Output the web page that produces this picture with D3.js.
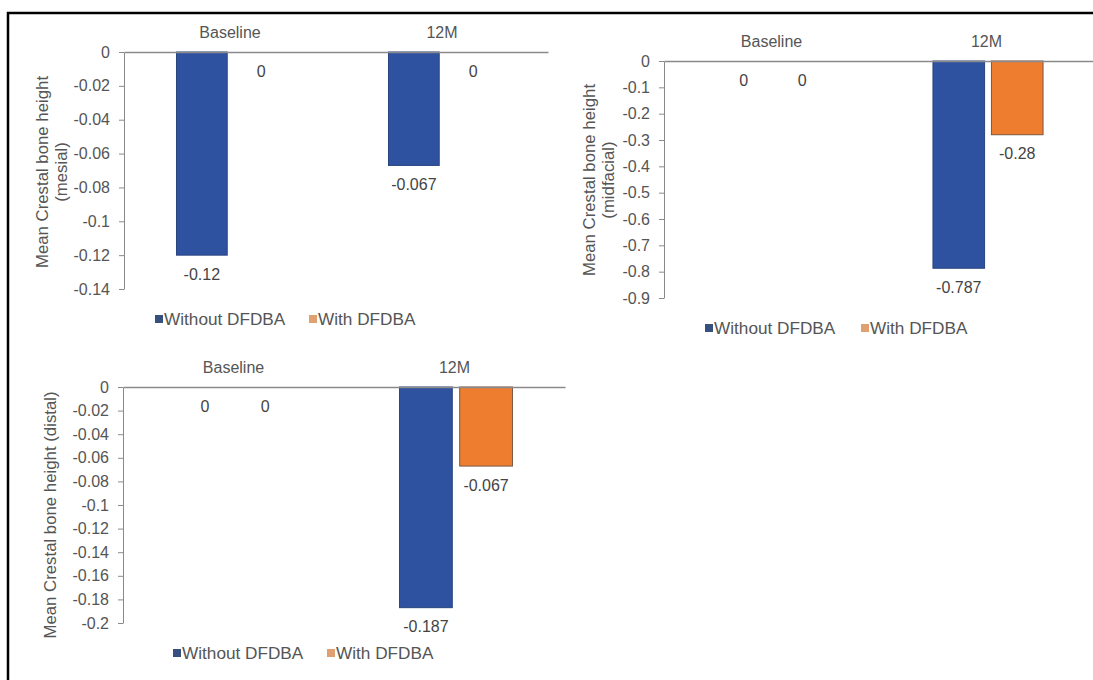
<!DOCTYPE html>
<html>
<head>
<meta charset="utf-8">
<script src="https://cdn.jsdelivr.net/npm/d3@7"></script>
<style>
  html, body { margin: 0; padding: 0; background: #fff; }
  svg { display: block; font-family: "Liberation Sans", Arial, sans-serif; }
</style>
</head>
<body>
<svg id="chart" width="1093" height="680"></svg>
<script>
// Crestal bone height change, with and without DFDBA
const categories = ["Baseline", "12M"];
const seriesNames = ["Without DFDBA", "With DFDBA"];

const mesialWithout = [-0.12, -0.067];
const mesialWith = [0, 0];
const midfacialWithout = [0, -0.787];
const midfacialWith = [0, -0.28];
const distalWithout = [0, -0.187];
const distalWith = [0, -0.067];

const mesialTicks = [0, -0.02, -0.04, -0.06, -0.08, -0.1, -0.12, -0.14];
const midfacialTicks = [0, -0.1, -0.2, -0.3, -0.4, -0.5, -0.6, -0.7, -0.8, -0.9];
const distalTicks = [0, -0.02, -0.04, -0.06, -0.08, -0.1, -0.12, -0.14, -0.16, -0.18, -0.2];

const colors = ["#2E52A0", "#EE7D2F"];
const strokes = ["#27447f", "#7a5640"];
const legendColors = ["#36507f", "#e0a070"];
const textColor = "#555";
const axisColor = "#8a8a8a";
const FONT = 16;

// layout of each small chart
const panels = [
  { title: ["Mean Crestal bone height", "(mesial)"], series: [mesialWithout, mesialWith], ticks: mesialTicks,
    x0: 124, x1: 548, y0: 52, y1: 289, barFrac: 0.222, gapFrac: 0.075,
    titleX: 42, titleY: 172, legendY: 319, legendX: [155, 309] },
  { title: ["Mean Crestal bone height", "(midfacial)"], series: [midfacialWithout, midfacialWith], ticks: midfacialTicks,
    x0: 664, x1: 1094, y0: 61, y1: 298, barFrac: 0.226, gapFrac: 0.06,
    titleX: 589, titleY: 180, legendY: 328, legendX: [705, 861] },
  { title: ["Mean Crestal bone height (distal)"], series: [distalWithout, distalWith], ticks: distalTicks,
    x0: 123, x1: 565, y0: 387, y1: 623, barFrac: 0.224, gapFrac: 0.063,
    titleX: 50, titleY: 515, legendY: 653, legendX: [173, 327] }
];

const svg = d3.select("#chart");

// outer frame
svg.append("rect")
  .attr("x", 8).attr("y", 13)
  .attr("width", 1200).attr("height", 800)
  .attr("fill", "none").attr("stroke", "#000").attr("stroke-width", 2.5);

function fmt(v) { return String(v); }

panels.forEach(p => {
  const g = svg.append("g");
  const ticks = p.ticks;
  const y = d3.scaleLinear()
    .domain([0, ticks[ticks.length - 1]])
    .range([p.y0, p.y1]);
  const x = d3.scaleBand().domain(categories).range([p.x0, p.x1]).paddingInner(0).paddingOuter(0);
  const bw = x.bandwidth();
  const barW = bw * p.barFrac;
  const gap = bw * p.gapFrac;
  const offset = d3.scaleBand().domain(seriesNames)
    .range([bw / 2 - barW - gap / 2 + 1.5, bw / 2 + barW + gap / 2 + 1.5])
    .paddingInner(gap / (2 * barW + gap));

  // bars
  p.series.forEach((vals, si) => {
    g.selectAll(null).data(vals.map((v, i) => ({ v, c: categories[i] })))
      .enter().filter(d => d.v !== 0)
      .append("rect")
      .attr("x", d => x(d.c) + offset(seriesNames[si]))
      .attr("y", y(0))
      .attr("width", offset.bandwidth())
      .attr("height", d => y(d.v) - y(0))
      .attr("fill", colors[si])
      .attr("stroke", strokes[si])
      .attr("stroke-width", 1);
  });

  // y axis
  const ya = g.append("g")
    .attr("transform", `translate(${p.x0},0)`)
    .call(d3.axisLeft(y).tickValues(ticks).tickFormat(fmt).tickSize(5).tickSizeOuter(0).tickPadding(9));
  ya.select(".domain").attr("stroke", axisColor);
  ya.selectAll(".tick line").attr("stroke", axisColor);
  ya.selectAll(".tick text").attr("fill", textColor).attr("font-size", FONT);

  // category axis on the zero line, labels above
  const xa = g.append("g")
    .attr("transform", `translate(0,${y(0)})`)
    .call(d3.axisTop(x).tickSize(0).tickPadding(14));
  xa.select(".domain").attr("stroke", axisColor).attr("stroke-width", 1.5);
  xa.selectAll(".tick text").attr("fill", textColor).attr("font-size", FONT);

  // value labels below bar ends
  p.series.forEach((vals, si) => {
    g.selectAll(null).data(vals.map((v, i) => ({ v, c: categories[i] })))
      .enter().append("text")
      .attr("x", d => x(d.c) + offset(seriesNames[si]) + offset.bandwidth() / 2)
      .attr("y", d => y(d.v) + 19)
      .attr("dy", "0.35em")
      .attr("text-anchor", "middle")
      .attr("fill", "#444")
      .attr("font-size", FONT)
      .text(d => fmt(d.v));
  });

  // axis title
  const t = g.append("text")
    .attr("transform", `translate(${p.titleX},${p.titleY}) rotate(-90)`)
    .attr("text-anchor", "middle")
    .attr("fill", textColor)
    .attr("font-size", FONT + 0.8);
  p.title.forEach((line, i) => {
    t.append("tspan").attr("x", 0).attr("dy", i === 0 ? "0.35em" : "1.15em").text(line);
  });

  // legend
  seriesNames.forEach((name, si) => {
    const lx = p.legendX[si];
    g.append("rect")
      .attr("x", lx).attr("y", p.legendY - 4)
      .attr("width", 8).attr("height", 8)
      .attr("fill", legendColors[si]);
    g.append("text")
      .attr("x", lx + 9).attr("y", p.legendY)
      .attr("dy", "0.35em")
      .attr("fill", textColor)
      .attr("font-size", FONT + 1.2)
      .text(name);
  });
});
</script>
</body>
</html>
